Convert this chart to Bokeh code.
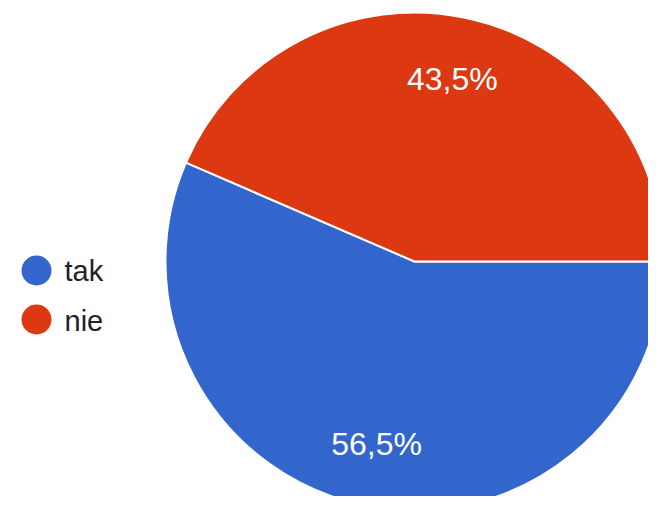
import numpy as np
from bokeh.plotting import figure
from bokeh.models import Range1d, ColumnDataSource
from bokeh.core.properties import value
from bokeh.embed import file_html
from bokeh.resources import INLINE

categories = ["tak", "nie"]
shares = [56.5, 43.5]
labels = ["56,5%", "43,5%"]
colors = ["#3366cc", "#dc3912"]

W, H = 648, 496
p = figure(width=W, height=H, output_backend="svg", toolbar_location=None,
           x_range=Range1d(0, W), y_range=Range1d(512 - H, 512),
           min_border=0, outline_line_color=None)
p.axis.visible = False
p.grid.visible = False
p.background_fill_color = "white"
p.border_fill_color = "white"

cx, cy, r = 414, 512 - 261, 249

frac = np.array(shares) / sum(shares)
cum = np.cumsum(frac)
end_clock = -cum * 2 * np.pi
start_clock = np.concatenate([[0.0], end_clock[:-1]])
mid = (start_clock + end_clock) / 2

src = ColumnDataSource(dict(
    start=end_clock, end=start_clock, color=colors, cat=categories,
    lx=cx + 0.75 * r * np.cos(mid), ly=cy + 0.75 * r * np.sin(mid), lab=labels,
))

p.wedge(x=cx, y=cy, radius=r, start_angle="start", end_angle="end",
        direction="anticlock", fill_color="color", line_color="white",
        line_width=2, source=src)

p.text(x="lx", y="ly", text="lab", source=src, text_color="white",
       text_font=value("Liberation Sans"), text_font_size="32px",
       text_align="center", text_baseline="middle")

idx = np.arange(len(categories))
leg = ColumnDataSource(dict(
    x=[36] * len(categories), y=512 - (270 + 49 * idx),
    tx=[64] * len(categories), ty=512 - (270 + 50 * idx),
    color=colors, cat=categories,
))
p.scatter(x="x", y="y", size=30, fill_color="color", line_color=None, source=leg)
p.text(x="tx", y="ty", text="cat", source=leg, text_color="#222222",
       text_font=value("Liberation Sans"), text_font_size="29px",
       text_align="left", text_baseline="middle")

open("out.html", "w").write(file_html(p, INLINE))
